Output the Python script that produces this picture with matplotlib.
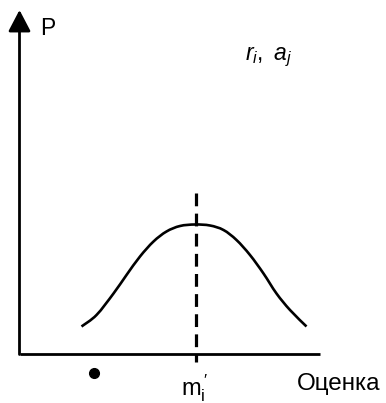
import matplotlib.pyplot as plt
from matplotlib.path import Path
from matplotlib.patches import PathPatch

plt.rcParams['font.family'] = ['Liberation Sans', 'DejaVu Sans']
plt.rcParams['mathtext.fontset'] = 'custom'
plt.rcParams['mathtext.rm'] = 'Liberation Sans'
plt.rcParams['mathtext.it'] = 'Liberation Sans:italic'

# bell-shaped curve of the estimate
curve_x = [62, 77, 94, 107, 120.5, 134, 147, 160.5, 175.5, 190.5, 204, 217,
           230.5, 244, 257, 270.5, 287]
curve_y = [27, 38.5, 60, 78.5, 97, 112, 122, 127.5, 129, 128, 123.5, 113.5,
           98.5, 80, 60, 43.5, 27]

mode_x = 176          # position of m_i'
x_end = 300           # end of the estimate axis
y_end = 343.5         # top of the P axis
dot_x, dot_y = 74.5, -19.5


def smooth_path(xs, ys):
    # Catmull-Rom through the points, written as cubic Bezier segments
    pts = list(zip(xs, ys))
    verts = [pts[0]]
    codes = [Path.MOVETO]
    for i in range(len(pts) - 1):
        p0 = pts[max(i - 1, 0)]
        p1 = pts[i]
        p2 = pts[i + 1]
        p3 = pts[min(i + 2, len(pts) - 1)]
        c1 = (p1[0] + (p2[0] - p0[0]) / 6, p1[1] + (p2[1] - p0[1]) / 6)
        c2 = (p2[0] - (p3[0] - p1[0]) / 6, p2[1] - (p3[1] - p1[1]) / 6)
        verts += [c1, c2, p2]
        codes += [Path.CURVE4] * 3
    return Path(verts, codes)


fig = plt.figure(figsize=(3.86, 4.03), dpi=100)
ax = fig.add_axes([0, 0, 1, 1])
ax.set_xlim(-19.5, 366.5)
ax.set_ylim(-49.5, 353.5)
ax.axis('off')

# axes
ax.plot([0, x_end], [0, 0], color='black', lw=2.0, solid_capstyle='butt')
ax.annotate('', xy=(0, y_end), xytext=(0, -1),
            arrowprops=dict(arrowstyle='-|>,head_length=0.65,head_width=0.34',
                            color='black', lw=2.0, mutation_scale=20,
                            shrinkA=0, shrinkB=0))

# curve and the dashed line through its peak
ax.add_patch(PathPatch(smooth_path(curve_x, curve_y), fill=False,
                       edgecolor='black', lw=1.9))
ax.plot([mode_x, mode_x], [160.5, -8.5], color='black', lw=2.3,
        dashes=(4, 2.3))

ax.plot(dot_x, dot_y, 'o', color='black', ms=7)

ax.text(21, 318.5, 'P', fontsize=16.5, va='baseline', ha='left')
ax.text(225.5, 293.5, r'$r_i,\ a_j$', fontsize=16.5, va='baseline',
        ha='left')
ax.text(mode_x - 1.5, -41.5, r"m$_\mathrm{i}^{\,\prime}$", fontsize=17,
        va='baseline', ha='center')
ax.text(277.5, -36.5, 'Оценка', fontsize=17.5, va='baseline', ha='left')

fig.savefig('out.png', dpi=100)
